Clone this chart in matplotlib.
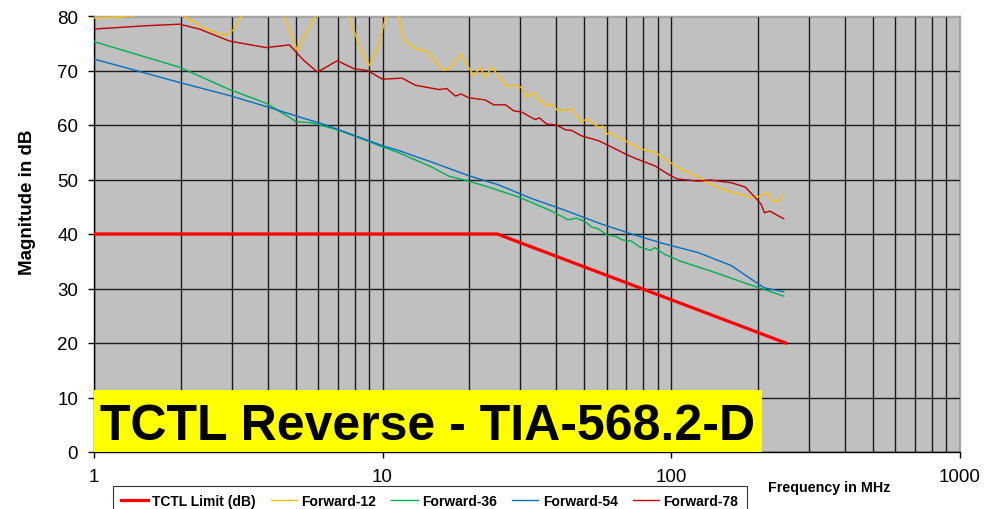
import matplotlib.pyplot as plt
import numpy as np
from matplotlib.ticker import LogLocator, FixedLocator, NullFormatter
from matplotlib.patches import Rectangle

plt.rcParams['font.family'] = ['Liberation Sans', 'DejaVu Sans']

# TCTL limit line
limit_f = [1, 25, 250]
limit_db = [40, 40, 20]

# Forward-12 (clipped above 80 dB)
f12_f = [1.0, 1.2, 1.36, 1.7, 2.06, 2.4, 2.84, 3.05, 3.24, 3.8, 4.58, 5.07, 5.84, 6.7,
         7.67, 8.3, 9.0, 9.6, 10.3, 10.9, 11.4, 11.9, 13.0, 14.5, 15.4, 16.4, 17.2, 18.7,
         20.7, 21.8, 22.7, 23.9, 25.3, 27.0, 28.5, 30.3, 31.6, 33.4, 34.7, 37.0, 38.6,
         40.5, 45.3, 49.0, 51.0, 56.2, 58.0, 59.9, 62.0, 64.0, 69.4, 78.6, 88.0, 97.5,
         108, 124, 141, 162, 195, 217, 226, 236, 246]
f12_db = [79.6, 79.8, 80.0, 81.0, 80.0, 77.8, 76.4, 77.5, 80.0, 86.0, 80.0, 73.6, 80.0, 87.0,
          80.0, 74.5, 70.9, 74.0, 80.0, 86.0, 80.1, 75.5, 74.1, 73.3, 71.5, 70.0, 70.5, 73.0,
          69.0, 70.6, 68.8, 70.6, 69.0, 67.1, 67.3, 66.9, 65.1, 65.9, 64.8, 63.5, 63.9,
          62.6, 62.9, 60.6, 61.1, 59.6, 59.8, 58.3, 58.6, 58.0, 57.1, 55.6, 55.0, 53.4,
          51.9, 50.5, 48.8, 47.7, 46.6, 47.5, 45.9, 46.1, 47.2]

# Forward-36
f36_f = [1.0, 1.98, 2.95, 3.95, 4.76, 5.02, 5.7, 7.1, 10.0, 11.4, 14.8, 17.0, 19.9, 22.7,
         29.6, 38.6, 44.0, 47.0, 50.6, 53.0, 56.2, 60.0, 64.0, 68.0, 72.9, 78.0, 85.0,
         88.0, 94.8, 108, 141, 185, 246]
f36_db = [75.3, 70.6, 66.5, 64.0, 61.4, 60.6, 60.4, 59.0, 56.0, 54.9, 52.3, 50.6, 49.7, 48.8,
          46.8, 44.2, 42.6, 42.9, 42.2, 41.3, 40.9, 39.8, 39.6, 38.9, 38.7, 37.6, 37.0,
          37.5, 36.3, 35.0, 33.0, 30.8, 28.6]

# Forward-54
f54_f = [1.0, 1.98, 2.95, 3.95, 5.28, 6.2, 10.0, 11.4, 14.8, 19.9, 25.3, 32.9, 43.2,
         56.2, 72.9, 94.8, 124, 162, 185, 211, 246]
f54_db = [72.1, 67.8, 65.4, 63.4, 61.3, 60.2, 56.2, 55.3, 53.2, 50.7, 49.0, 46.5, 44.3,
          42.0, 40.0, 38.2, 36.6, 34.2, 32.1, 30.1, 29.4]

# Forward-78
f78_f = [1.0, 1.5, 1.98, 2.32, 2.95, 3.95, 4.76, 5.3, 5.95, 6.97, 7.99, 8.86, 10.0, 11.7,
         13.0, 15.7, 16.7, 17.9, 18.7, 19.9, 22.7, 24.3, 26.7, 28.5, 30.3, 33.8, 35.0,
         37.0, 40.0, 43.2, 45.3, 49.0, 56.2, 62.0, 69.4, 75.0, 88.0, 97.5, 105, 124, 137,
         162, 181, 195, 205, 211, 220, 246]
f78_db = [77.6, 78.2, 78.5, 77.6, 75.4, 74.2, 74.7, 72.0, 69.7, 71.8, 70.3, 70.0, 68.4, 68.6,
          67.3, 66.5, 66.7, 65.3, 65.7, 65.0, 64.6, 63.7, 63.7, 62.6, 62.4, 61.0, 61.3,
          60.2, 60.0, 59.1, 59.0, 58.0, 57.1, 56.0, 54.7, 53.9, 52.5, 51.0, 50.1, 49.7, 49.9,
          49.4, 48.6, 46.8, 45.5, 43.9, 44.2, 42.8]

fig = plt.figure(figsize=(10.01, 5.10), dpi=100)
ax = fig.add_axes([94 / 1001, 1 - 453 / 510, 865.5 / 1001, 436 / 510])
ax.set_facecolor('#C0C0C0')

ax.plot(limit_f, limit_db, color='#FF0000', lw=2.3, label='TCTL Limit (dB)', zorder=5)
ax.plot(f12_f, f12_db, color='#FFC000', lw=1.0, label='Forward-12', zorder=4)
ax.plot(f36_f, f36_db, color='#00B050', lw=1.0, label='Forward-36', zorder=4)
ax.plot(f54_f, f54_db, color='#0070C0', lw=1.0, label='Forward-54', zorder=4)
ax.plot(f78_f, f78_db, color='#C00000', lw=1.0, label='Forward-78', zorder=4)

ax.set_xscale('log')
ax.set_xlim(1, 1000)
ax.set_ylim(0, 80)
ax.set_yticks(np.arange(0, 81, 10))
ax.xaxis.set_major_locator(FixedLocator([1, 10, 100, 1000]))
ax.set_xticklabels(['1', '10', '100', '1000'])
ax.xaxis.set_minor_locator(LogLocator(base=10, subs=np.arange(2, 10)))
ax.xaxis.set_minor_formatter(NullFormatter())
ax.tick_params(axis='x', which='minor', length=0)
ax.tick_params(axis='both', which='major', length=4.5, width=1, labelsize=13.5, pad=7)

ax.grid(True, which='both', axis='x', color='#1a1a1a', lw=1.0, zorder=1)
ax.grid(True, which='major', axis='y', color='#1a1a1a', lw=1.0, zorder=1)
ax.set_axisbelow(True)

for s in ['left', 'bottom']:
    ax.spines[s].set_color('black')
    ax.spines[s].set_linewidth(1.0)
for s in ['top', 'right']:
    ax.spines[s].set_color('#A8A8A8')
    ax.spines[s].set_linewidth(1.0)

ax.set_ylabel('Magnitude in dB', fontsize=13.5, fontweight='bold', va='center')
ax.yaxis.set_label_coords(-0.0774, 0.576)
ax.set_xlabel('Frequency in MHz', fontsize=10.3, fontweight='bold', va='center')
ax.xaxis.set_label_coords(0.850, -0.080)

# yellow title box
ax.add_patch(Rectangle((0, 0), 0.772, 0.142, transform=ax.transAxes,
                       facecolor='#FFFF00', edgecolor='none', zorder=6))
ax.text(0.0069, 0.030, 'TCTL Reverse - TIA-568.2-D', transform=ax.transAxes,
        fontsize=36, fontweight='bold', ha='left', va='baseline', zorder=7)

leg = fig.legend(loc='upper left', bbox_to_anchor=(113 / 1001, 1 - 487 / 510), ncol=5,
                 prop={'weight': 'bold', 'size': 10}, frameon=True, fancybox=False,
                 edgecolor='black', handlelength=1.9, handletextpad=0.3,
                 columnspacing=1.1, borderpad=0.6, borderaxespad=0)
leg.get_frame().set_linewidth(0.8)

fig.savefig('out.png', dpi=100)
